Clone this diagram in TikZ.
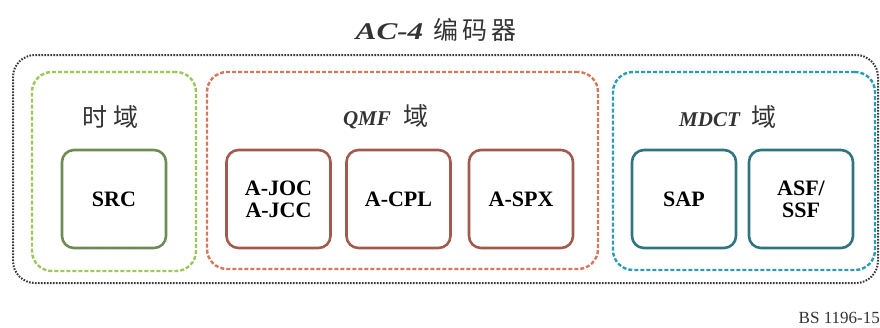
\documentclass[tikz,border=0pt]{standalone}
\usepackage{fontspec}
\setmainfont{Liberation Serif}
\newfontfamily\cjk{Noto Sans CJK SC}
\definecolor{outergray}{HTML}{3A3A3A}
\definecolor{greendash}{HTML}{9CC85A}
\definecolor{reddash}{HTML}{D8765A}
\definecolor{bluedash}{HTML}{2A9DB5}
\definecolor{greenbox}{HTML}{6E8A55}
\definecolor{redbox}{HTML}{A25A4C}
\definecolor{bluebox}{HTML}{2F7480}
\definecolor{txtgray}{HTML}{333333}
\begin{document}
\begin{tikzpicture}[x=1pt,y=-1pt,
  container/.style={draw, rounded corners=20pt, line width=2.4pt, dash pattern=on 4pt off 2pt, inner sep=0pt},
  outerbox/.style={draw=outergray, rounded corners=22pt, line width=2pt, dash pattern=on 1.6pt off 1.4pt, inner sep=0pt},
  blockbox/.style={draw, rounded corners=12pt, line width=2.6pt, minimum width=104pt, minimum height=98pt, inner sep=0pt, align=center, font=\fontsize{22}{22}\selectfont\bfseries, text=black},
  domlabel/.style={inner sep=0pt, text=txtgray},
]
\useasboundingbox (0,0) rectangle (880,327);
% outer encoder box
\node[outerbox, minimum width=865pt, minimum height=228pt] (enc) at (445.5,169) {};
% domain containers
\node[container, draw=greendash, minimum width=164pt, minimum height=199pt] (time) at (114,171.5) {};
\node[container, draw=reddash, minimum width=391pt, minimum height=197pt] (qmf) at (402.5,170.5) {};
\node[container, draw=bluedash, minimum width=262pt, minimum height=198pt] (mdct) at (744,171) {};
% title
\node[inner sep=0pt, text=txtgray] (title) at (436,30) {\scalebox{1.3}[1]{\fontsize{24}{25}\selectfont\bfseries\itshape AC-4}\hspace{10pt}{\cjk\fontsize{25}{26}\selectfont 编\hspace{4pt}码\hspace{4pt}器}};
% domain labels
\node[domlabel] (tlabel) at (110,116.5) {\cjk\fontsize{25}{26}\selectfont 时\hspace{6pt}域};
\node[domlabel] (qlabel) at (386,116.5) {{\fontsize{21}{22}\selectfont\bfseries\itshape QMF}\hspace{13pt}{\cjk\fontsize{25}{26}\selectfont 域}};
\node[domlabel] (mlabel) at (728,116.5) {{\fontsize{21}{22}\selectfont\bfseries\itshape MDCT}\hspace{12pt}{\cjk\fontsize{25}{26}\selectfont 域}};
% blocks
\node[blockbox, draw=greenbox] (src) at (114,199) {SRC};
\node[blockbox, draw=redbox] (ajoc) at (278.5,199) {A-JOC\\A-JCC};
\node[blockbox, draw=redbox] (acpl) at (398.5,199) {A-CPL};
\node[blockbox, draw=redbox] (aspx) at (521,199) {A-SPX};
\node[blockbox, draw=bluebox] (sap) at (684,199) {SAP};
\node[blockbox, draw=bluebox] (asf) at (801,199) {ASF/\\SSF};
% figure id
\node[inner sep=0pt, anchor=east, font=\fontsize{17}{18}\selectfont, text=txtgray] (figid) at (880,318) {BS 1196-15};
\end{tikzpicture}
\end{document}
